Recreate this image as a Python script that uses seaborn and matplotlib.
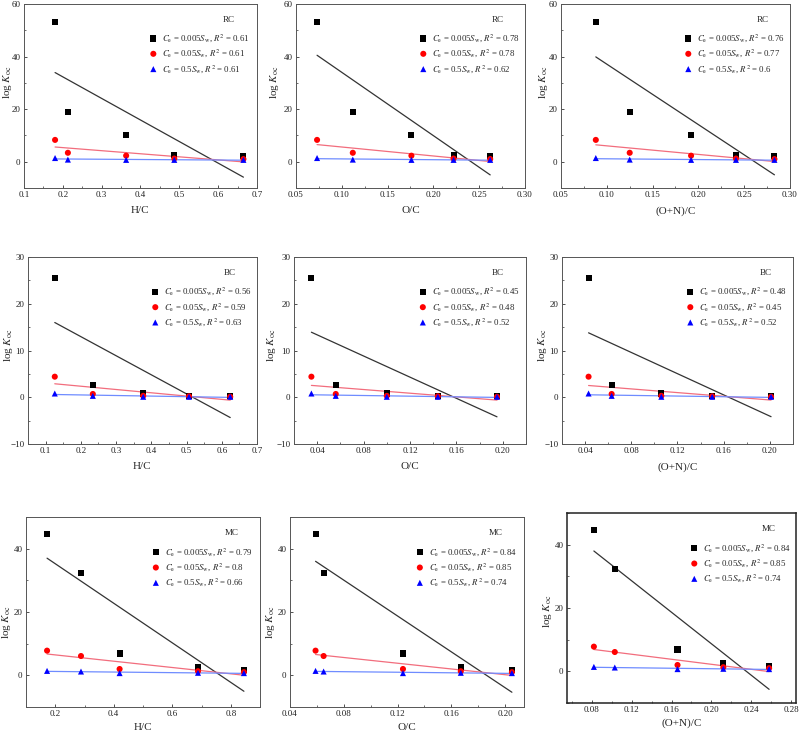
import numpy as np
import pandas as pd
import matplotlib
matplotlib.use("Agg")
import matplotlib.pyplot as plt
import seaborn as sns
from matplotlib.ticker import AutoMinorLocator, FixedLocator, FormatStrFormatter

# ---------------- data ----------------
materials = ["RC", "BC", "MC"]
xlabels = ["H/C", "O/C", "(O+N)/C"]
series_labels = ["0.005", "0.05", "0.5"]

# x values (atomic ratios)
RC_HC = [0.180, 0.213, 0.363, 0.487, 0.665]
RC_OC = [0.073, 0.112, 0.176, 0.222, 0.262]
RC_ONC = [0.088, 0.125, 0.192, 0.241, 0.283]
BC_HC = [0.126, 0.234, 0.377, 0.507, 0.624]
BC_OC = [0.035, 0.056, 0.100, 0.144, 0.195]
BC_ONC = [0.043, 0.063, 0.106, 0.150, 0.201]
MC_HC = [0.172, 0.288, 0.420, 0.688, 0.845]
MC_OC = [0.059, 0.065, 0.124, 0.167, 0.205]
MC_ONC = [0.082, 0.103, 0.166, 0.212, 0.258]

# log Koc values for Ce = 0.005Sw, 0.05Sw, 0.5Sw
RC_y0005 = [53.2, 18.9, 10.1, 2.4, 2.3]
RC_y005 = [8.3, 3.4, 2.3, 1.2, 1.0]
RC_y05 = [1.4, 0.8, 0.7, 0.7, 0.7]
BC_y0005 = [25.5, 2.6, 0.8, 0.3, 0.2]
BC_y005 = [4.4, 0.7, 0.3, 0.2, 0.1]
BC_y05 = [0.8, 0.3, 0.1, 0.1, 0.1]
MC_y0005 = [44.7, 32.2, 6.9, 2.6, 1.6]
MC_y005 = [7.8, 6.1, 2.0, 1.3, 1.0]
MC_y05 = [1.4, 1.2, 0.7, 0.8, 0.7]

# R^2 labels [material][xvar][series]
RC_R2 = [["0.61", "0.61", "0.61"], ["0.78", "0.78", "0.62"], ["0.76", "0.77", "0.6"]]
BC_R2 = [["0.56", "0.59", "0.63"], ["0.45", "0.48", "0.52"], ["0.48", "0.45", "0.52"]]
MC_R2 = [["0.79", "0.8", "0.66"], ["0.84", "0.85", "0.74"], ["0.84", "0.85", "0.74"]]

# axis ticks
RC_xticks = [[0.1, 0.2, 0.3, 0.4, 0.5, 0.6, 0.7],
             [0.05, 0.10, 0.15, 0.20, 0.25, 0.30],
             [0.05, 0.10, 0.15, 0.20, 0.25, 0.30]]
BC_xticks = [[0.1, 0.2, 0.3, 0.4, 0.5, 0.6, 0.7],
             [0.04, 0.08, 0.12, 0.16, 0.20],
             [0.04, 0.08, 0.12, 0.16, 0.20]]
MC_xticks = [[0.2, 0.4, 0.6, 0.8],
             [0.04, 0.08, 0.12, 0.16, 0.20],
             [0.08, 0.12, 0.16, 0.20, 0.24, 0.28]]
RC_yticks = [0, 20, 40, 60]
BC_yticks = [-10, 0, 10, 20, 30]
MC_yticks = [0, 20, 40]

# ---------------- style ----------------
sns.set_style("ticks")
plt.rcParams["font.family"] = ["Liberation Serif", "DejaVu Serif"]
plt.rcParams["mathtext.fontset"] = "stix"
plt.rcParams["xtick.direction"] = "in"
plt.rcParams["ytick.direction"] = "in"

W, H = 803, 734
fig = plt.figure(figsize=(W / 100, H / 100), dpi=100)

# axes boxes in pixels: (left, top, right, bottom)
boxes = [
    [(24, 4, 257, 188), (296, 4, 525, 188), (561, 4, 790, 188)],
    [(28, 257, 257, 444), (294, 257, 526, 444), (562, 257, 793, 444)],
    [(26, 517, 260, 707), (290, 517, 524, 707), (567, 513, 796, 703)],
]
# y-label centres in pixels (x, y)
ylab_pos = [
    [(8, 82), (275, 82), (544, 82)],
    [(8, 345), (272, 345), (543, 345)],
    [(7, 622), (271, 622), (547, 611)],
]
xlab_pad = [5, 5, 3]
xlims = [
    [(0.1, 0.7), (0.05, 0.30), (0.05, 0.30)],
    [(0.05, 0.7), (0.02, 0.22), (0.02, 0.22)],
    [(0.1, 0.9), (0.04, 0.214), (0.055, 0.285)],
]
ylims = [(-10, 60), (-10, 30), (-10, 50)]
xfmts = [["%.1f", "%.2f", "%.2f"], ["%.1f", "%.2f", "%.2f"], ["%.1f", "%.2f", "%.2f"]]

data = {
    "RC": ([RC_HC, RC_OC, RC_ONC], [RC_y0005, RC_y005, RC_y05], RC_R2, RC_xticks, RC_yticks),
    "BC": ([BC_HC, BC_OC, BC_ONC], [BC_y0005, BC_y005, BC_y05], BC_R2, BC_xticks, BC_yticks),
    "MC": ([MC_HC, MC_OC, MC_ONC], [MC_y0005, MC_y005, MC_y05], MC_R2, MC_xticks, MC_yticks),
}

marker_colors = ["#000000", "#ff0000", "#0000ff"]
line_colors = ["#333333", "#f26d7d", "#6f8cff"]
markers = ["s", "o", "^"]

for r, mat in enumerate(materials):
    xs_list, ys_list, r2, xticks, yticks = data[mat]
    for c in range(3):
        l, t, rr, b = boxes[r][c]
        ax = fig.add_axes([l / W, 1 - b / H, (rr - l) / W, (b - t) / H])
        xs = xs_list[c]
        for k in range(3):
            df = pd.DataFrame({"x": xs, "y": ys_list[k]})
            sns.regplot(data=df, x="x", y="y", ax=ax, ci=None, scatter=False,
                        truncate=True,
                        line_kws=dict(color=line_colors[k], lw=0.9, zorder=2))
            lab = (r"$C_{\rm e}$ = " + series_labels[k] + r"$S_{\rm w}$, $R^2$ = " + r2[c][k])
            sns.scatterplot(data=df, x="x", y="y", ax=ax, marker=markers[k],
                            color=marker_colors[k], s=19, edgecolor="none",
                            linewidth=0, label=lab, zorder=3)
        ax.set_xlim(*xlims[r][c])
        ax.set_ylim(*ylims[r])
        ax.xaxis.set_major_locator(FixedLocator(xticks[c]))
        ax.xaxis.set_major_formatter(FormatStrFormatter(xfmts[r][c]))
        ax.xaxis.set_minor_locator(AutoMinorLocator(2))
        ax.yaxis.set_major_locator(FixedLocator(yticks))
        ax.yaxis.set_minor_locator(AutoMinorLocator(2))
        ax.tick_params(which="major", labelsize=6.5, length=2.5, width=0.6,
                       colors="#333333", pad=2.5)
        ax.tick_params(which="minor", length=1.5, width=0.5, colors="#333333")
        ax.tick_params(labelcolor="#222222")
        for sp in ax.spines.values():
            sp.set_linewidth(1.1 if (r == 2 and c == 2) else 0.7)
            sp.set_color("#222222" if (r == 2 and c == 2) else "#555555")
        ax.set_xlabel(xlabels[c], fontsize=8, labelpad=xlab_pad[r])
        ax.set_ylabel(r"log $K_{\rm oc}$", fontsize=8, va="center")
        lx, ly = ylab_pos[r][c]
        ax.yaxis.set_label_coords((lx - l) / (rr - l), 1 - (ly - t) / (b - t))
        ax.text(0.88, 0.915, mat, transform=ax.transAxes, fontsize=6.5,
                ha="center", va="center")
        ax.legend(loc="upper left", bbox_to_anchor=(0.51, 0.88), frameon=False,
                  fontsize=6.3, handlelength=1.0, handletextpad=0.5,
                  labelspacing=0.4, borderpad=0.2, markerscale=1.0)

fig.savefig("out.png", dpi=100)
